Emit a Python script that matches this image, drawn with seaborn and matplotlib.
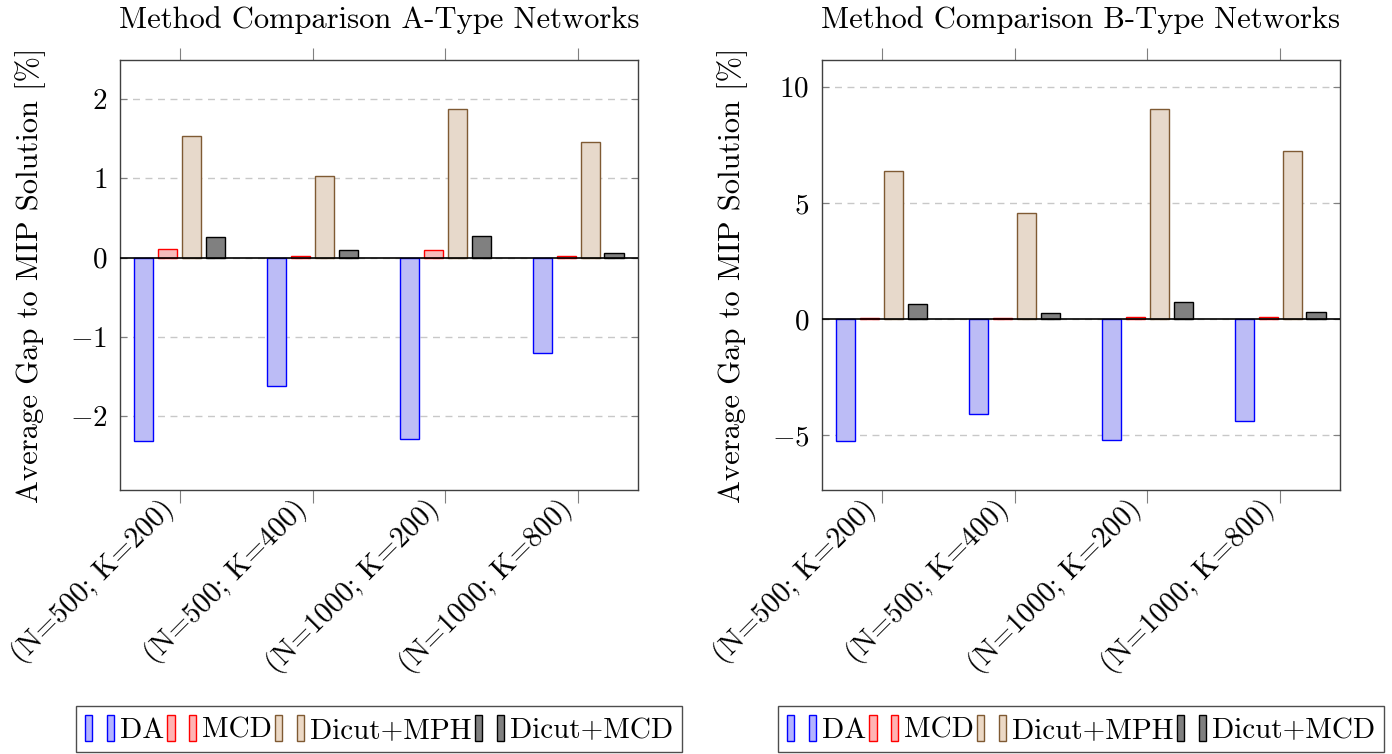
import pandas as pd
import matplotlib.pyplot as plt
import seaborn as sns
from matplotlib.patches import Rectangle
from matplotlib.legend_handler import HandlerTuple

# data
configs = ["(N=500; K=200)", "(N=500; K=400)", "(N=1000; K=200)", "(N=1000; K=800)"]
methods = ["DA", "MCD", "Dicut+MPH", "Dicut+MCD"]

gap_a_da = [-2.31, -1.62, -2.29, -1.20]
gap_a_mcd = [0.11, 0.02, 0.10, 0.02]
gap_a_mph = [1.53, 1.03, 1.87, 1.46]
gap_a_dmcd = [0.26, 0.09, 0.27, 0.06]

gap_b_da = [-5.23, -4.07, -5.20, -4.37]
gap_b_mcd = [0.03, 0.03, 0.10, 0.10]
gap_b_mph = [6.39, 4.55, 9.04, 7.23]
gap_b_dmcd = [0.65, 0.27, 0.72, 0.29]

fills = ["#b3b3ff", "#ffb3b3", "#ecd9c6", "#808080"]
edges = ["#0000ff", "#ff0000", "#7f5a33", "#000000"]


def long_df(series):
    rows = []
    for m, vals in zip(methods, series):
        for c, v in zip(configs, vals):
            rows.append({"config": c, "method": m, "gap": v})
    return pd.DataFrame(rows)


df_a = long_df([gap_a_da, gap_a_mcd, gap_a_mph, gap_a_dmcd])
df_b = long_df([gap_b_da, gap_b_mcd, gap_b_mph, gap_b_dmcd])

sns.set_style("white")
plt.rcParams["font.family"] = "serif"
plt.rcParams["font.serif"] = ["cmr10", "DejaVu Serif"]
plt.rcParams["mathtext.fontset"] = "cm"
plt.rcParams["axes.formatter.use_mathtext"] = True
plt.rcParams["text.color"] = "black"
plt.rcParams["xtick.labelcolor"] = "black"
plt.rcParams["ytick.labelcolor"] = "black"
plt.rcParams["axes.labelcolor"] = "black"

fig = plt.figure(figsize=(13.92, 7.54), dpi=100)
ax_a = fig.add_axes([0.0862, 0.3501, 0.3721, 0.5703])
ax_b = fig.add_axes([0.5905, 0.3501, 0.3721, 0.5703])

panels = [
    (ax_a, df_a, "Method Comparison A-Type Networks", (-2.93, 2.49), [-2, -1, 0, 1, 2]),
    (ax_b, df_b, "Method Comparison B-Type Networks", (-7.36, 11.15), [-5, 0, 5, 10]),
]

for ax, df, title, ylim, yticks in panels:
    sns.barplot(data=df, x="config", y="gap", hue="method", order=configs,
                hue_order=methods, palette=fills, width=0.72, gap=0.2,
                errorbar=None, ax=ax, legend=False, zorder=3)
    # colour the outlines per method
    for i, cont in enumerate(ax.containers):
        for bar in cont:
            bar.set_edgecolor(edges[i])
            bar.set_linewidth(1.0)
    ax.axhline(0, color="black", lw=1.2, zorder=4)
    ax.set_xlim(-0.45, 3.45)
    ax.set_ylim(*ylim)
    ax.set_yticks(yticks)
    ax.yaxis.grid(True, color="#c8c8c8", ls=(0, (5, 4)), lw=1)
    ax.set_axisbelow(True)
    ax.set_title(title, fontsize=22, pad=23)
    ax.set_xlabel("")
    ax.set_ylabel("Average Gap to MIP Solution [%]", fontsize=22, labelpad=17)
    ax.set_xticks(range(len(configs)))
    ax.set_xticklabels(configs, rotation=45, ha="right", va="bottom",
                       rotation_mode="anchor", fontsize=21)
    ax.tick_params(axis="y", labelsize=21, direction="in", length=5, color="#808080",
                   left=True, right=True, pad=9)
    ax.tick_params(axis="x", direction="out", length=9, color="#808080",
                   bottom=True, top=True, pad=9)
    for sp in ax.spines.values():
        sp.set_visible(True)
        sp.set_color("#404040")
        sp.set_linewidth(1.0)

    handles = []
    for f, e in zip(fills, edges):
        handles.append((Rectangle((0, 0), 1, 1, fc=f, ec=e, lw=1),
                        Rectangle((0, 0), 1, 1, fc=f, ec=e, lw=1)))
    ax.legend(handles, methods, ncol=4, loc="center", bbox_to_anchor=(0.5, -0.556),
              handler_map={tuple: HandlerTuple(ndivide=None, pad=0.5)},
              handlelength=1.0, handleheight=1.0, handletextpad=0.2, columnspacing=0.1,
              fontsize=21, frameon=True, fancybox=False, edgecolor="#202020",
              borderpad=0.3, borderaxespad=0)

fig.savefig("out.png", dpi=100)
